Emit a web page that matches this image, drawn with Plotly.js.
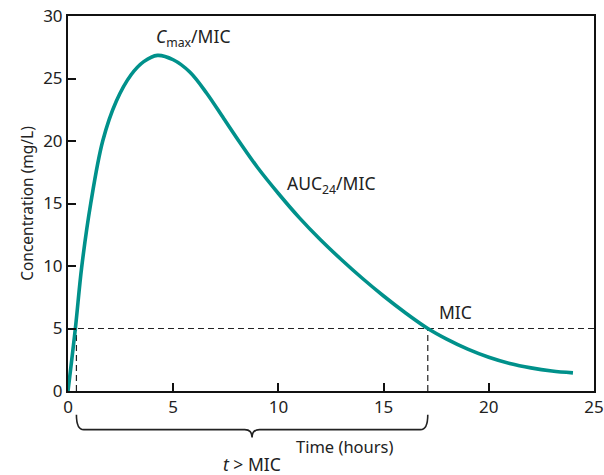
<!DOCTYPE html>
<html>
<head>
<meta charset="utf-8">
<script src="https://cdn.plot.ly/plotly-3.0.1.min.js"></script>
<style>html,body{margin:0;padding:0;background:#fff;}#chart{width:604px;height:475px;}</style>
</head>
<body>
<div id="chart"></div>
<script>
// Data
const timeHours = [0, 0.35, 0.65, 1.08, 1.65, 2.3, 3.0, 3.6, 4.25, 5.0, 5.8, 6.6, 7.4, 8.2, 9.0, 10.0, 11.0, 12.0, 13.0, 14.0, 15.0, 16.0, 17.1, 18.0, 19.0, 20.0, 21.0, 22.0, 23.0, 24.0];
const concentration = [0, 5.0, 9.9, 15.0, 20.0, 23.2, 25.3, 26.35, 26.85, 26.5, 25.5, 23.8, 21.8, 19.8, 17.9, 15.8, 13.85, 12.1, 10.5, 9.0, 7.6, 6.3, 5.0, 4.15, 3.35, 2.7, 2.2, 1.85, 1.6, 1.45];
const micValue = 5;
const micCrossings = [0.4, 17.1];
const xTicks = [0, 5, 10, 15, 20, 25];
const yTicks = [0, 5, 10, 15, 20, 25, 30];

const fontFam = '"Noto Sans", "DejaVu Sans", sans-serif';
const dashStyle = {color: '#222', width: 1.2, dash: '6px,4px'};

const traces = [
  {x: [0, 25], y: [micValue, micValue], mode: 'lines', line: dashStyle, hoverinfo: 'skip'},
  {x: [micCrossings[0], micCrossings[0]], y: [0, micValue], mode: 'lines', line: dashStyle, hoverinfo: 'skip'},
  {x: [micCrossings[1], micCrossings[1]], y: [0, micValue], mode: 'lines', line: dashStyle, hoverinfo: 'skip'},
  {x: timeHours, y: concentration, mode: 'lines', line: {color: '#00918b', width: 3.6, shape: 'spline', smoothing: 1.0}, cliponaxis: false}
];

const x0 = micCrossings[0], x1 = micCrossings[1], xm = (x0 + x1) / 2;
const yTop = -0.063, yH = -0.103, yTip = -0.124, r = 0.35;
const bracePath = `M ${x0},${yTop} Q ${x0},${yH} ${x0 + r},${yH} L ${xm - r},${yH} Q ${xm},${yH} ${xm},${yTip} Q ${xm},${yH} ${xm + r},${yH} L ${x1 - r},${yH} Q ${x1},${yH} ${x1},${yTop}`;

const axisCommon = {
  showgrid: false, zeroline: false, showline: true, linecolor: '#111', linewidth: 2,
  mirror: true, ticks: 'inside', ticklen: 8, tickwidth: 2, tickcolor: '#111',
  tickfont: {family: fontFam, size: 17, color: '#222'}
};

const L = 68, T = 16, W = 526, H = 375;
const layout = {
  width: 604, height: 475,
  margin: {l: L, r: 604 - L - W, t: T, b: 475 - T - H},
  paper_bgcolor: '#fff', plot_bgcolor: '#fff',
  showlegend: false,
  xaxis: Object.assign({}, axisCommon, {range: [0, 25], tickvals: xTicks, ticktext: xTicks.map(String)}),
  yaxis: Object.assign({}, axisCommon, {range: [0, 30], tickvals: yTicks, ticktext: yTicks.map(String),
    title: {text: 'Concentration (mg/L)', font: {family: fontFam, size: 15.5, color: '#222'}, standoff: 6}}),
  shapes: [
    {type: 'path', xref: 'x', yref: 'paper', path: bracePath, line: {color: '#222', width: 1.6}}
  ],
  annotations: [
    {x: 5.95, y: 28.3, xref: 'x', yref: 'y', text: '<i>C</i><sub>max</sub>/MIC', showarrow: false, xanchor: 'center', yanchor: 'middle', font: {family: fontFam, size: 17.5, color: '#222'}},
    {x: 12.5, y: 16.5, xref: 'x', yref: 'y', text: 'AUC<sub>24</sub>/MIC', showarrow: false, xanchor: 'center', yanchor: 'middle', font: {family: fontFam, size: 17.5, color: '#222'}},
    {x: 18.4, y: 6.3, xref: 'x', yref: 'y', text: 'MIC', showarrow: false, xanchor: 'center', yanchor: 'middle', font: {family: fontFam, size: 17.5, color: '#222'}},
    {x: (344 - L) / W, y: (T + H - 446) / H, xref: 'paper', yref: 'paper', text: 'Time (hours)', showarrow: false, xanchor: 'center', yanchor: 'middle', font: {family: fontFam, size: 16.5, color: '#222'}},
    {x: xm, y: (T + H - 464) / H, xref: 'x', yref: 'paper', text: '<i>t</i> > MIC', showarrow: false, xanchor: 'center', yanchor: 'middle', font: {family: fontFam, size: 17.5, color: '#222'}}
  ]
};

Plotly.newPlot('chart', traces, layout, {displayModeBar: false, staticPlot: true});
</script>
</body>
</html>
